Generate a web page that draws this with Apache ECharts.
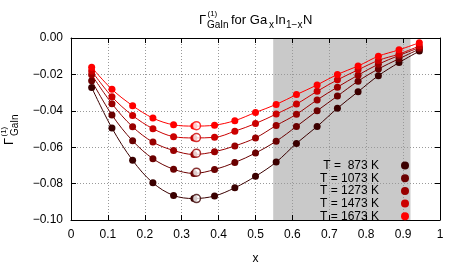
<!DOCTYPE html>
<html><head><meta charset="utf-8">
<script src="https://cdn.jsdelivr.net/npm/echarts@6/dist/echarts.min.js"></script>
<style>html,body{margin:0;padding:0;background:#fff}#c{width:463px;height:270px}</style>
</head><body><div id="c"></div>
<script>
const xValues = [0.056, 0.111, 0.167, 0.222, 0.278, 0.333, 0.389, 0.444, 0.5, 0.556, 0.611, 0.667, 0.722, 0.778, 0.833, 0.889, 0.944];
const seriesNames = ['T =  873 K', 'T = 1073 K', 'T = 1273 K', 'T = 1473 K', 'T = 1673 K'];
const y873  = [-0.0272,-0.0495,-0.0672,-0.0796,-0.0865,-0.0882,-0.0868,-0.0823,-0.0760,-0.0682,-0.0579,-0.0486,-0.0386,-0.0295,-0.0207,-0.0135,-0.0072];
const y1073 = [-0.0235,-0.0423,-0.0565,-0.0663,-0.0721,-0.0744,-0.0723,-0.0684,-0.0632,-0.0567,-0.0486,-0.0400,-0.0319,-0.0237,-0.0170,-0.0114,-0.0061];
const y1273 = [-0.0202,-0.0361,-0.0488,-0.0572,-0.0618,-0.0640,-0.0625,-0.0593,-0.0549,-0.0481,-0.0419,-0.0340,-0.0270,-0.0204,-0.0144,-0.0096,-0.0053];
const y1473 = [-0.0181,-0.0323,-0.0426,-0.0498,-0.0542,-0.0549,-0.0546,-0.0512,-0.0470,-0.0418,-0.0363,-0.0293,-0.0230,-0.0175,-0.0123,-0.0088,-0.0044];
const y1673 = [-0.0161,-0.0282,-0.0372,-0.0440,-0.0477,-0.0484,-0.0479,-0.0454,-0.0409,-0.0365,-0.0311,-0.0258,-0.0200,-0.0154,-0.0100,-0.0065,-0.0026];
const minX = [0.34, 0.34, 0.34, 0.34, 0.34];
const minY = [-0.0882, -0.0737, -0.0633, -0.0547, -0.0482];
const bandRange = [0.548, 0.92];
const xTicks = [0, 0.1, 0.2, 0.3, 0.4, 0.5, 0.6, 0.7, 0.8, 0.9, 1];
const yTicks = [-0.1, -0.08, -0.06, -0.04, -0.02, 0];

const colors = ['#3a0000', '#6a0000', '#990000', '#cc0000', '#ff0000'];
const allY = [y873, y1073, y1273, y1473, y1673];
const FONT = 'Liberation Sans, Arial, sans-serif';

const chart = echarts.init(document.getElementById('c'), null, {renderer: 'canvas'});

const series = [];
series.push({
  type: 'line', data: [], z: 1, silent: true,
  markArea: { silent: true, itemStyle: {color: '#c9c9c9'}, data: [[{xAxis: bandRange[0]}, {xAxis: bandRange[1]}]] }
});
allY.forEach((ys, i) => {
  series.push({
    name: seriesNames[i], type: 'line', z: 3 + i,
    data: xValues.map((x, j) => [x, ys[j]]),
    smooth: 0.35, symbol: 'circle', symbolSize: 7,
    itemStyle: {color: colors[i]},
    lineStyle: {color: colors[i], width: 1},
    emphasis: {disabled: true}
  });
  series.push({
    type: 'scatter', z: 10 + i,
    data: [[minX[i], minY[i]]],
    symbol: 'circle', symbolSize: 8,
    itemStyle: {color: '#ffffff', borderColor: colors[i], borderWidth: 1.5}
  });
});

const fmtY = v => { const s = Math.abs(v) < 1e-9 ? '0.00' : v.toFixed(2); return s.replace('-', '\u2212'); };
const fmtX = v => { const r = Math.round(v * 10) / 10; return String(r); };

function txt(x, y, s, size, rot) {
  return {type: 'text', x: x, y: y, rotation: rot || 0, z: 100,
    style: {text: s, fontSize: size, fontFamily: FONT, fill: '#000', align: 'left', verticalAlign: 'middle'}};
}

chart.setOption({
  animation: false,
  textStyle: {fontFamily: FONT},
  grid: {left: 71, right: 23, top: 38, bottom: 42},
  xAxis: [{
    type: 'value', min: xTicks[0], max: xTicks[xTicks.length - 1], interval: 0.1, z: 2,
    axisLine: {onZero: false, lineStyle: {color: '#000', width: 1}},
    axisTick: {inside: true, length: 5, lineStyle: {color: '#000'}},
    axisLabel: {color: '#000', fontSize: 12, margin: 9, formatter: fmtX, fontFamily: FONT},
    splitLine: {show: true, lineStyle: {color: '#999', type: [1, 2], width: 1}},
    name: 'x', nameLocation: 'middle', nameGap: 33,
    nameTextStyle: {color: '#000', fontSize: 12, fontFamily: FONT}
  }, {
    type: 'value', position: 'top', min: 0, max: 1, interval: 0.1, z: 2,
    axisLine: {onZero: false, lineStyle: {color: '#000', width: 1}},
    axisTick: {inside: true, length: 5, lineStyle: {color: '#000'}},
    axisLabel: {show: false}, splitLine: {show: false}
  }],
  yAxis: [{
    type: 'value', min: yTicks[0], max: yTicks[yTicks.length - 1], interval: 0.02, z: 2,
    axisLine: {onZero: false, lineStyle: {color: '#000', width: 1}},
    axisTick: {inside: true, length: 5, lineStyle: {color: '#000'}},
    axisLabel: {color: '#000', fontSize: 12, margin: 8, formatter: fmtY, fontFamily: FONT},
    splitLine: {show: true, lineStyle: {color: '#999', type: [1, 2], width: 1}}
  }, {
    type: 'value', position: 'right', min: -0.1, max: 0, interval: 0.02, z: 2,
    axisLine: {onZero: false, lineStyle: {color: '#000', width: 1}},
    axisTick: {inside: true, length: 5, lineStyle: {color: '#000'}},
    axisLabel: {show: false}, splitLine: {show: false}
  }],
  legend: {
    data: seriesNames, orient: 'vertical', align: 'right', padding: 0,
    right: 54, top: 159.5, icon: 'circle', itemWidth: 8, itemHeight: 8, itemGap: 0.7,
    textStyle: {color: '#000', fontSize: 12, fontFamily: FONT, lineHeight: 12, width: 60, align: 'right', padding: [0, 17, 0, 0]},
    selectedMode: false, z: 20
  },
  series: series,
  graphic: [
    txt(199, 20, '\u0393', 13),
    txt(207.5, 14, '(1)', 8),
    txt(207, 25, 'GaIn', 10),
    txt(231, 20, 'for Ga', 13),
    txt(269, 25, 'x', 10),
    txt(275, 20, 'In', 13),
    txt(286, 25, '1\u2212x', 10),
    txt(303, 20, 'N', 13),
    txt(9, 145, '\u0393', 13, Math.PI / 2),
    txt(4, 136.5, '(1)', 8, Math.PI / 2),
    txt(15, 136, 'GaIn', 10, Math.PI / 2)
  ]
});
</script></body></html>
